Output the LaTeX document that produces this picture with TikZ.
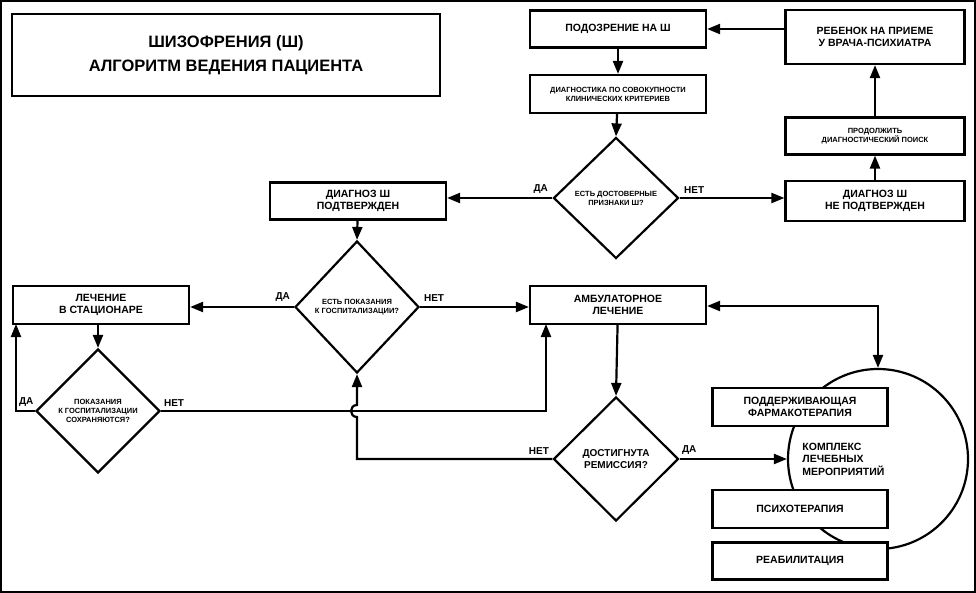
\documentclass[tikz,border=0pt]{standalone}
\usepackage{fontspec}
\setmainfont{Liberation Sans}
\usetikzlibrary{shapes.geometric,arrows.meta}
\begin{document}
\begin{tikzpicture}[x=1pt,y=-1pt,
  line width=2.2pt,
  box/.style={draw,fill=white,rectangle,align=center,font=\bfseries\fontsize{10.5}{12}\selectfont,inner sep=0pt},
  sbox/.style={box,font=\bfseries\fontsize{7.5}{9}\selectfont},
  dia/.style={draw,fill=white,diamond,align=center,inner sep=0pt,font=\bfseries\fontsize{7.5}{9}\selectfont},
  lbl/.style={font=\bfseries\fontsize{10}{12}\selectfont,inner sep=1pt},
  arr/.style={-{Triangle[length=13pt,width=10pt]}},
  darr/.style={{Triangle[length=13pt,width=10pt]}-{Triangle[length=13pt,width=10pt]}}]
\useasboundingbox (0,0) rectangle (976,593);
\draw[line width=2pt] (1,1) rectangle (975,592);
% title
\node[box,minimum width=428pt,minimum height=82pt,font=\bfseries\fontsize{16.5}{24}\selectfont] (title) at (226,55) {ШИЗОФРЕНИЯ (Ш)\\АЛГОРИТМ ВЕДЕНИЯ ПАЦИЕНТА};
% top boxes
\node[box,minimum width=176pt,minimum height=37pt] (podozr) at (618,29) {ПОДОЗРЕНИЕ НА Ш};
\node[box,minimum width=179pt,minimum height=54pt] (reb) at (875,37) {РЕБЕНОК НА ПРИЕМЕ\\У ВРАЧА-ПСИХИАТРА};
\node[sbox,minimum width=176pt,minimum height=38pt] (diag) at (618,94) {ДИАГНОСТИКА ПО СОВОКУПНОСТИ\\КЛИНИЧЕСКИХ КРИТЕРИЕВ};
\node[sbox,minimum width=179pt,minimum height=37pt] (prod) at (875,136) {ПРОДОЛЖИТЬ\\ДИАГНОСТИЧЕСКИЙ ПОИСК};
\node[dia,minimum width=125pt,minimum height=121pt] (dost) at (616,198) {ЕСТЬ ДОСТОВЕРНЫЕ\\ПРИЗНАКИ Ш?};
\node[box,minimum width=176pt,minimum height=37pt] (podtv) at (358,201) {ДИАГНОЗ Ш\\ПОДТВЕРЖДЕН};
\node[box,minimum width=179pt,minimum height=40pt] (nepodtv) at (875,201) {ДИАГНОЗ Ш\\НЕ ПОДТВЕРЖДЕН};
% middle
\node[dia,minimum width=124pt,minimum height=132pt] (gosp) at (357,307) {ЕСТЬ ПОКАЗАНИЯ\\К ГОСПИТАЛИЗАЦИИ?};
\node[box,minimum width=176pt,minimum height=38pt] (stac) at (101,305) {ЛЕЧЕНИЕ\\В СТАЦИОНАРЕ};
\node[box,minimum width=176pt,minimum height=38pt] (amb) at (618,305) {АМБУЛАТОРНОЕ\\ЛЕЧЕНИЕ};
\node[dia,minimum width=124pt,minimum height=124pt] (sohr) at (98,411) {ПОКАЗАНИЯ\\К ГОСПИТАЛИЗАЦИИ\\СОХРАНЯЮТСЯ?};
\node[dia,minimum width=125pt,minimum height=124pt,font=\bfseries\fontsize{10}{12}\selectfont] (remis) at (616,459) {ДОСТИГНУТА\\РЕМИССИЯ?};
% circle complex
\node[draw,circle,minimum size=180pt,inner sep=0pt] (kompl) at (878,459) {};
\node[font=\bfseries\fontsize{10.5}{12.5}\selectfont,align=left,anchor=west] (kompltxt) at (798,459) {КОМПЛЕКС\\ЛЕЧЕБНЫХ\\МЕРОПРИЯТИЙ};
\node[box,minimum width=175pt,minimum height=38pt] (farm) at (800,407) {ПОДДЕРЖИВАЮЩАЯ\\ФАРМАКОТЕРАПИЯ};
\node[box,minimum width=175pt,minimum height=38pt] (psih) at (800,509) {ПСИХОТЕРАПИЯ};
\node[box,minimum width=175pt,minimum height=37pt] (reab) at (800,561) {РЕАБИЛИТАЦИЯ};
% connectors
\draw[arr] (reb.west|-podozr.east) -- (podozr.east);
\draw[arr] (podozr) -- (diag);
\draw[arr] (diag) -- (dost.north);
\draw[arr] (dost.west) -- (podtv.east|-dost.west);
\draw[arr] (dost.east) -- (nepodtv.west|-dost.east);
\node[lbl,anchor=south east] (lda1) at (550,196) {ДА};
\node[lbl,anchor=south west] (lnet1) at (682,196) {НЕТ};
\draw[arr] (nepodtv) -- (prod);
\draw[arr] (prod) -- (reb);
\draw[arr] (podtv) -- (gosp.north);
\draw[arr] (gosp.west) -- (stac.east|-gosp.west);
\draw[arr] (gosp.east) -- (amb.west|-gosp.east);
\node[lbl,anchor=south east] (lda2) at (292,304) {ДА};
\node[lbl,anchor=south west] (lnet2) at (422,304) {НЕТ};
\draw[arr] (stac.south-|sohr.north) -- (sohr.north);
\draw[arr] (sohr.west) -- (16,411) -- (16,324);
\node[lbl,anchor=south west] (lda3) at (17,409) {ДА};
\draw[arr] (sohr.east) -- (546,411) -- (546,324);
\node[lbl,anchor=south west] (lnet3) at (162,409) {НЕТ};
\draw[arr] (amb) -- (remis.north);
\draw[arr] (remis.east) -- (kompl.west);
\node[lbl,anchor=south west] (lda4) at (680,457) {ДА};
\draw[arr] (remis.west) -- (357,459) -- (357,417) .. controls (349,417) and (349,405) .. (357,405) -- (gosp.south);
\node[lbl,anchor=south east] (lnet4) at (551,457) {НЕТ};
\draw[darr] (amb.east|-0,306) -- (878,306) -- (kompl.north);
\end{tikzpicture}
\end{document}
